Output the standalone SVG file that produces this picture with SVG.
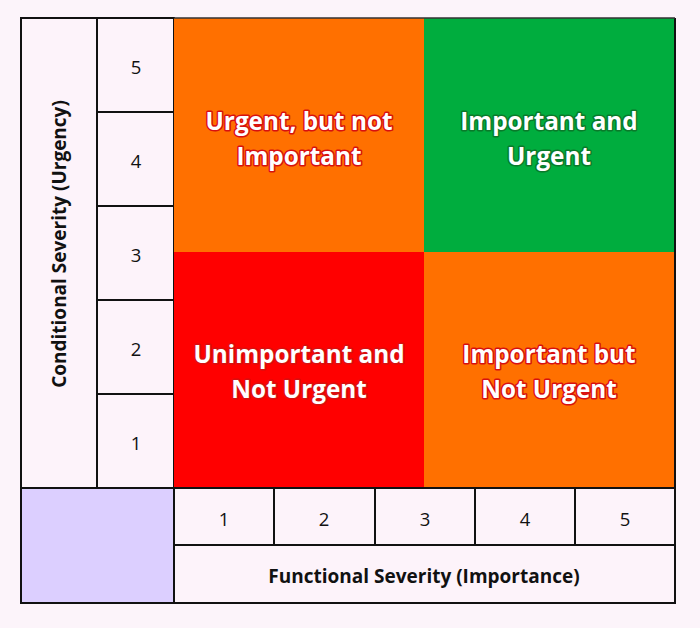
<svg xmlns="http://www.w3.org/2000/svg" width="700" height="628" viewBox="0 0 700 628">
<style>
.cell{fill:#fdf3fa;stroke:#111;stroke-width:2}
.num{font-family:"Open Sans","Liberation Sans",sans-serif;font-size:18.5px;fill:#111;text-anchor:middle}
.axis{font-family:"Open Sans","Liberation Sans",sans-serif;font-size:19px;font-weight:bold;fill:#111;text-anchor:middle}
.q{font-family:"Open Sans","Liberation Sans",sans-serif;font-size:24.3px;font-weight:bold;fill:#fff;text-anchor:middle;paint-order:stroke;stroke-width:3;stroke-linejoin:round}
.qr{stroke:#d81010}
.qg{stroke:#0a7a2a}
</style>
<rect width="700" height="628" fill="#fcf4fa"/>
<g id="y-axis-label">
<rect class="cell" x="21" y="18" width="76" height="470"/>
<text class="axis" transform="translate(66,244) rotate(-90)">Conditional Severity (Urgency)</text>
</g>
<g id="y-scale">
<rect class="cell" x="97" y="18" width="77" height="94"/>
<rect class="cell" x="97" y="112" width="77" height="94"/>
<rect class="cell" x="97" y="206" width="77" height="94"/>
<rect class="cell" x="97" y="300" width="77" height="94"/>
<rect class="cell" x="97" y="394" width="77" height="94"/>
<text class="num" x="136" y="74">5</text>
<text class="num" x="136" y="168">4</text>
<text class="num" x="136" y="262">3</text>
<text class="num" x="136" y="356">2</text>
<text class="num" x="136" y="450">1</text>
</g>
<g id="quadrant-urgent-not-important">
<rect x="174" y="18" width="250" height="234" fill="#ff7000"/>
<text class="q qr" x="299" y="130">Urgent, but not</text>
<text class="q qr" x="299" y="165">Important</text>
</g>
<g id="quadrant-important-urgent">
<rect x="424" y="18" width="251" height="234" fill="#00ad3e"/>
<text class="q qg" x="549" y="130">Important and</text>
<text class="q qg" x="549" y="165">Urgent</text>
</g>
<g id="quadrant-unimportant-not-urgent">
<rect x="174" y="252" width="250" height="236" fill="#ff0000"/>
<text class="q qr" x="299" y="363">Unimportant and</text>
<text class="q qr" x="299" y="398">Not Urgent</text>
</g>
<g id="quadrant-important-not-urgent">
<rect x="424" y="252" width="251" height="236" fill="#ff7000"/>
<text class="q qr" x="549" y="363">Important but</text>
<text class="q qr" x="549" y="398">Not Urgent</text>
</g>
<line x1="675" y1="18" x2="675" y2="488" stroke="#111" stroke-width="2"/>
<line x1="174" y1="18" x2="675" y2="18" stroke="#333" stroke-width="1.5"/>
<g id="corner">
<rect x="21" y="488" width="153" height="115" fill="#dccfff" stroke="#111" stroke-width="2"/>
</g>
<g id="x-scale">
<rect class="cell" x="174" y="488" width="100" height="57"/>
<rect class="cell" x="274" y="488" width="101" height="57"/>
<rect class="cell" x="375" y="488" width="100" height="57"/>
<rect class="cell" x="475" y="488" width="100" height="57"/>
<rect class="cell" x="575" y="488" width="100" height="57"/>
<text class="num" x="224" y="526">1</text>
<text class="num" x="324" y="526">2</text>
<text class="num" x="425" y="526">3</text>
<text class="num" x="525" y="526">4</text>
<text class="num" x="625" y="526">5</text>
</g>
<g id="x-axis-label">
<rect class="cell" x="174" y="545" width="501" height="58"/>
<text class="axis" x="424" y="583">Functional Severity (Importance)</text>
</g>
</svg>
